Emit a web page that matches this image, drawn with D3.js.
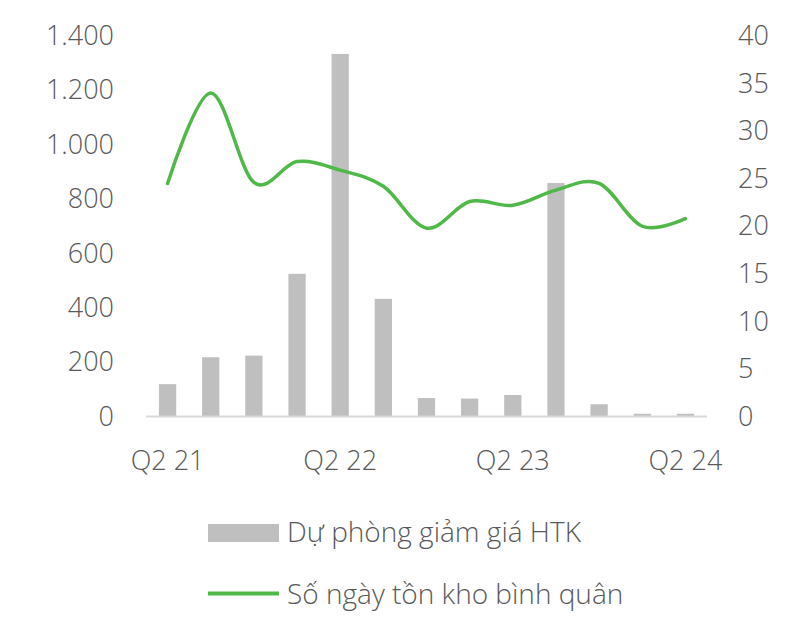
<!DOCTYPE html>
<html>
<head>
<meta charset="utf-8">
<script src="https://cdnjs.cloudflare.com/ajax/libs/d3/7.8.5/d3.min.js"></script>
<style>
  body { margin: 0; background: #fff; }
  text { font-family: "Open Sans", "Noto Sans", sans-serif; font-weight: 300; fill: #595959; }
</style>
</head>
<body>
<div id="chart"></div>
<script>
const quarters = ["Q2 21", "Q3 21", "Q4 21", "Q1 22", "Q2 22", "Q3 22", "Q4 22", "Q1 23", "Q2 23", "Q3 23", "Q4 23", "Q1 24", "Q2 24"];
const provision = [119, 218, 224, 525, 1334, 433, 68, 66, 79, 859, 45, 10, 10];
const inventoryDays = [24.5, 34.0, 24.6, 26.8, 25.9, 24.2, 19.8, 22.6, 22.2, 23.8, 24.5, 20.0, 20.8];
const leftTicks = [0, 200, 400, 600, 800, 1000, 1200, 1400];
const rightTicks = [0, 5, 10, 15, 20, 25, 30, 35, 40];
const shownLabels = ["Q2 21", "Q2 22", "Q2 23", "Q2 24"];

const W = 810, H = 636;
const plot = { left: 146, right: 707, top: 36, bottom: 416.5 };

const svg = d3.select("#chart")
  .append("svg")
  .attr("width", W)
  .attr("height", H);

const x = d3.scaleBand()
  .domain(quarters)
  .range([plot.left, plot.right])
  .paddingInner(0.6)
  .paddingOuter(0.3);

const yLeft = d3.scaleLinear().domain([0, 1400]).range([plot.bottom, plot.top]);
const yRight = d3.scaleLinear().domain([0, 40]).range([plot.bottom, plot.top]);

// bars
svg.append("g")
  .selectAll("rect")
  .data(provision)
  .join("rect")
  .attr("x", (d, i) => x(quarters[i]))
  .attr("width", x.bandwidth())
  .attr("y", d => yLeft(d))
  .attr("height", d => plot.bottom - yLeft(d))
  .attr("fill", "#bfbfbf");

// baseline
svg.append("line")
  .attr("x1", plot.left).attr("x2", plot.right)
  .attr("y1", plot.bottom).attr("y2", plot.bottom)
  .attr("stroke", "#d9d9d9")
  .attr("stroke-width", 2);

// left axis
const leftAxis = svg.append("g")
  .attr("transform", `translate(114,0)`)
  .call(d3.axisLeft(yLeft).tickValues(leftTicks).tickSize(0).tickPadding(0)
    .tickFormat(d => d3.format(",")(d).replace(/,/g, ".")));
leftAxis.select(".domain").remove();
leftAxis.selectAll("text").attr("font-size", 27).attr("fill", "#595959").attr("font-family", null);

// right axis
const rightAxis = svg.append("g")
  .attr("transform", `translate(738,0)`)
  .call(d3.axisRight(yRight).tickValues(rightTicks).tickSize(0).tickPadding(0));
rightAxis.select(".domain").remove();
rightAxis.selectAll("text").attr("font-size", 27).attr("fill", "#595959").attr("font-family", null);

// x axis labels
const xAxis = svg.append("g")
  .attr("transform", `translate(0,${plot.bottom + 34})`)
  .call(d3.axisBottom(x).tickValues(shownLabels).tickSize(0).tickPadding(0));
xAxis.select(".domain").remove();
xAxis.selectAll("text").attr("font-size", 27).attr("fill", "#595959").attr("font-family", null);

// line
const line = d3.line()
  .x((d, i) => x(quarters[i]) + x.bandwidth() / 2)
  .y(d => yRight(d))
  .curve(d3.curveCardinal.tension(0));

svg.append("path")
  .datum(inventoryDays)
  .attr("d", line)
  .attr("fill", "none")
  .attr("stroke", "#4fb848")
  .attr("stroke-width", 3.5)
  .attr("stroke-linecap", "round");

// legend
const legend = svg.append("g");
legend.append("rect")
  .attr("x", 208).attr("y", 524)
  .attr("width", 71).attr("height", 18)
  .attr("fill", "#bfbfbf");
legend.append("text")
  .attr("x", 287).attr("y", 542)
  .attr("font-size", 28)
  .text("Dự phòng giảm giá HTK");
legend.append("line")
  .attr("x1", 208).attr("x2", 279)
  .attr("y1", 593.5).attr("y2", 593.5)
  .attr("stroke", "#4fb848")
  .attr("stroke-width", 4);
legend.append("text")
  .attr("x", 287).attr("y", 604)
  .attr("font-size", 28)
  .text("Số ngày tồn kho bình quân");
</script>
</body>
</html>
